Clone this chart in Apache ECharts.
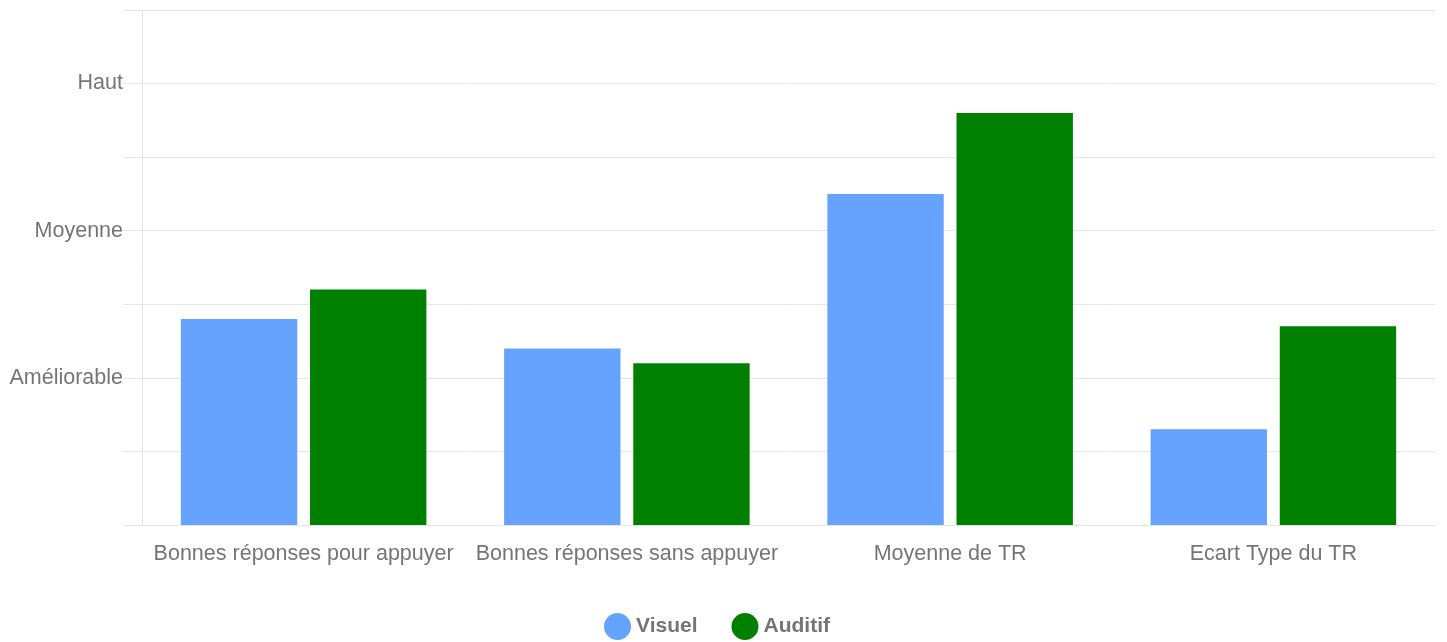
<!DOCTYPE html>
<html>
<head>
<meta charset="utf-8">
<script src="https://cdn.jsdelivr.net/npm/echarts@6/dist/echarts.min.js"></script>
<style>
  html, body { margin: 0; padding: 0; background: #fff; }
  #chart { width: 1447px; height: 642px; }
</style>
</head>
<body>
<div id="chart"></div>
<script>
const categories = [
  "Bonnes réponses pour appuyer",
  "Bonnes réponses sans appuyer",
  "Moyenne de TR",
  "Ecart Type du TR"
];
const visuel = [2.8, 2.4, 4.5, 1.3];
const auditif = [3.2, 2.2, 5.6, 2.7];
// niveaux affichés sur l'axe y
const levelLabels = { 2: "Améliorable", 4: "Moyenne", 6: "Haut" };

const chart = echarts.init(document.getElementById("chart"));
const gridColor = "#e6e6e6";
const textColor = "#757575";

chart.setOption({
  animation: false,
  textStyle: { fontFamily: "Liberation Sans, Arial, sans-serif" },
  grid: { left: 142, right: 12, top: 10, bottom: 117, containLabel: false },
  legend: {
    top: 608,
    left: 599,
    icon: "circle",
    itemWidth: 27,
    itemHeight: 27,
    itemGap: 34,
    textStyle: { color: textColor, fontSize: 21, fontWeight: "bold", fontFamily: "Liberation Sans, Arial, sans-serif" },
    data: ["Visuel", "Auditif"]
  },
  xAxis: {
    type: "category",
    data: categories,
    axisLine: { lineStyle: { color: gridColor } },
    axisTick: { show: false },
    axisLabel: { color: textColor, fontSize: 21.5, margin: 18, interval: 0 }
  },
  yAxis: {
    type: "value",
    min: 0,
    max: 7,
    interval: 1,
    axisLine: { show: true, lineStyle: { color: gridColor } },
    axisTick: { show: true, length: 19, lineStyle: { color: gridColor } },
    splitLine: { lineStyle: { color: gridColor } },
    axisLabel: {
      color: textColor,
      fontSize: 21.5,
      margin: 19,
      formatter: v => levelLabels[v] || ""
    }
  },
  series: [
    {
      name: "Visuel",
      type: "bar",
      data: visuel,
      barWidth: "36%",
      barGap: "11%",
      itemStyle: { color: "#66a3ff" }
    },
    {
      name: "Auditif",
      type: "bar",
      data: auditif,
      barWidth: "36%",
      itemStyle: { color: "#008000" }
    }
  ]
});
</script>
</body>
</html>
